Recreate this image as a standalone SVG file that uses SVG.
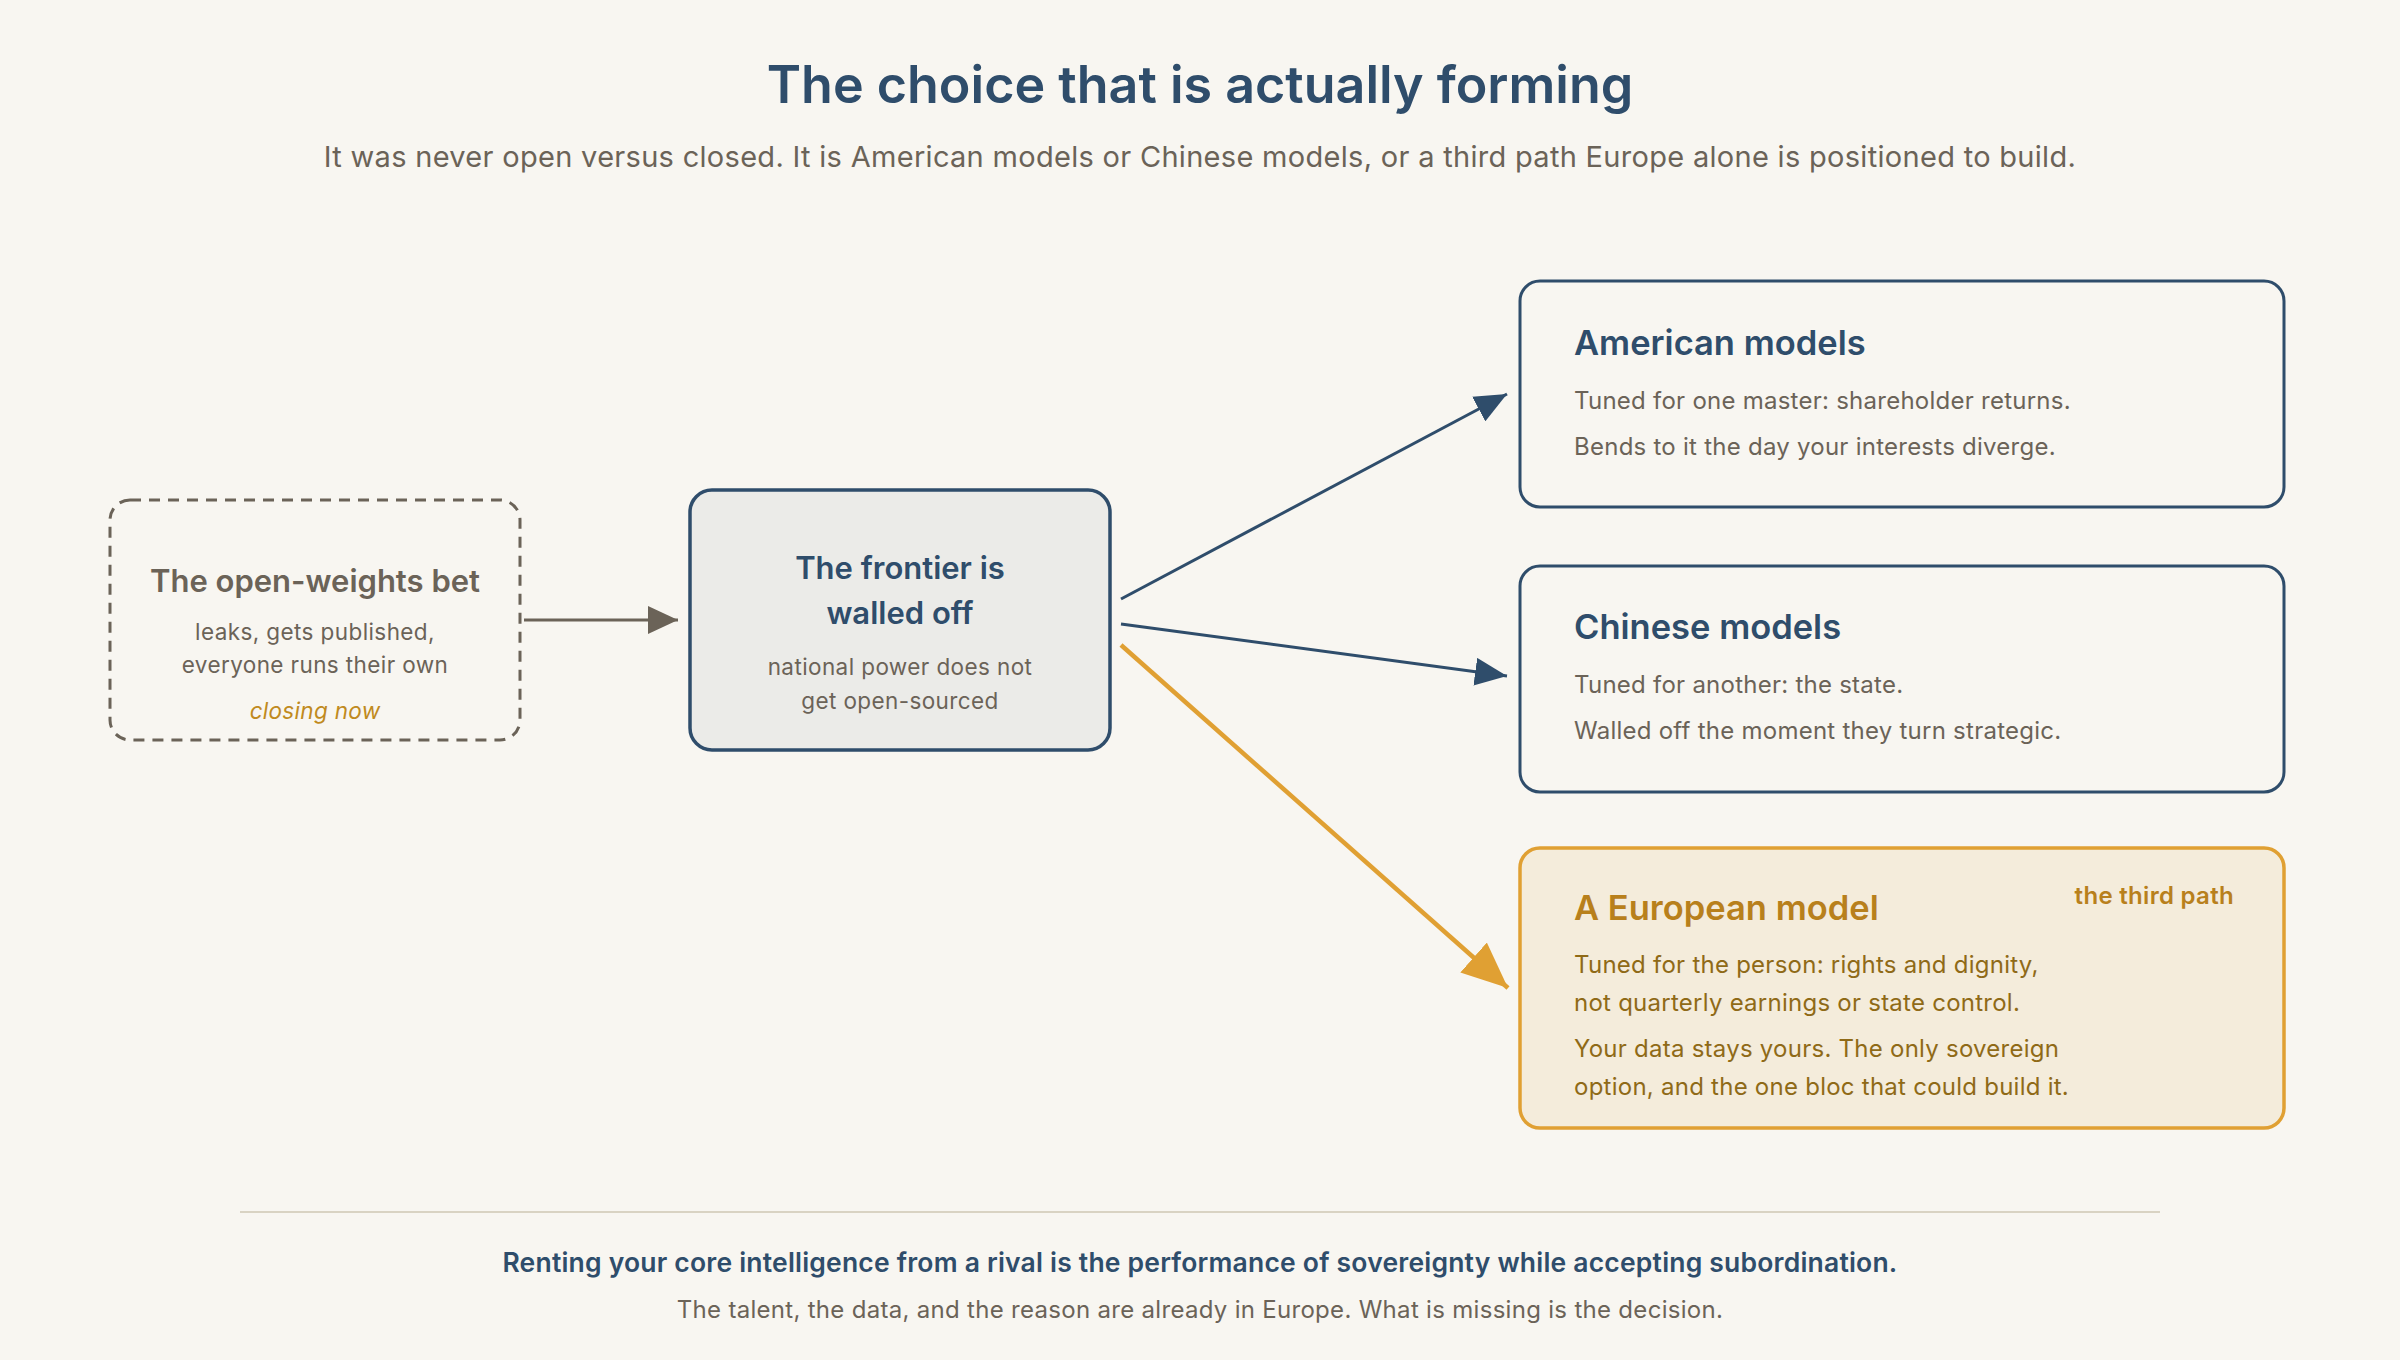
<svg xmlns="http://www.w3.org/2000/svg" width="2400" height="1360" viewBox="0 0 2400 1360">
<style>
text{font-family:Inter,"Noto Sans","Liberation Sans",sans-serif}
.h{font-size:52px;font-weight:600;fill:#2f4d6b}
.sub{font-size:29px;fill:#6b6358;letter-spacing:0.3px}
.nt{font-size:31px;font-weight:600}
.ns{font-size:22.5px;fill:#6b6358;letter-spacing:0.4px}
.bt{font-size:34.5px;font-weight:600;fill:#2f4d6b}
.bb{font-size:24px;fill:#6b6358;letter-spacing:0.25px}
.gt{font-size:34.5px;font-weight:600;fill:#b8801c}
.gb{font-size:24px;fill:#8f6a17;letter-spacing:0.25px}
.f1{font-size:26.5px;font-weight:600;fill:#2f4d6b;letter-spacing:0.2px}
.f2{font-size:24px;fill:#6b6358;letter-spacing:0.3px}
.blue{fill:none;stroke:#2f4d6b;stroke-width:3}
</style>
<defs>
<marker id="mg" markerUnits="userSpaceOnUse" markerWidth="30" markerHeight="28" refX="30" refY="14" orient="auto"><path d="M0,0 L30,14 L0,28 z" fill="#6b6358"/></marker>
<marker id="mb" markerUnits="userSpaceOnUse" markerWidth="32" markerHeight="28" refX="32" refY="14" orient="auto"><path d="M0,0 L32,14 L0,28 z" fill="#2f4d6b"/></marker>
<marker id="mo" markerUnits="userSpaceOnUse" markerWidth="46" markerHeight="40" refX="46" refY="20" orient="auto"><path d="M0,0 L46,20 L0,40 z" fill="#e0a033"/></marker>
</defs>
<rect width="2400" height="1360" fill="#f8f6f1"/>
<g id="header">
<text class="h" x="1200" y="103" text-anchor="middle">The choice that is actually forming</text>
<text class="sub" x="1200" y="167" text-anchor="middle">It was never open versus closed. It is American models or Chinese models, or a third path Europe alone is positioned to build.</text>
</g>
<g id="connectors">
<path d="M524,620 L678,620" fill="none" stroke="#6b6358" stroke-width="3" marker-end="url(#mg)"/>
<path class="blue" d="M1121,599 L1507,394" marker-end="url(#mb)"/>
<path class="blue" d="M1121,624 L1507,676" marker-end="url(#mb)"/>
<path d="M1121,645 L1508,988" fill="none" stroke="#e0a033" stroke-width="4.5" marker-end="url(#mo)"/>
</g>
<g id="node-open">
<rect x="110" y="500" width="410" height="240" rx="20" fill="none" stroke="#6b6358" stroke-width="3" stroke-dasharray="11 8"/>
<text class="nt" x="315" y="592" text-anchor="middle" fill="#6b6358">The open-weights bet</text>
<text class="ns" x="315" y="640" text-anchor="middle">leaks, gets published,</text>
<text class="ns" x="315" y="673" text-anchor="middle">everyone runs their own</text>
<text x="315" y="719" text-anchor="middle" font-size="22.5" font-style="italic" letter-spacing="0.3" fill="#c08a20">closing now</text>
</g>
<g id="node-frontier">
<rect x="690" y="490" width="420" height="260" rx="22" fill="#ebebe8" stroke="#2f4d6b" stroke-width="3.5"/>
<text class="nt" x="900" y="579" text-anchor="middle" fill="#2f4d6b" font-size="32">The frontier is</text>
<text class="nt" x="900" y="624" text-anchor="middle" fill="#2f4d6b" font-size="32">walled off</text>
<text class="ns" x="900" y="675" text-anchor="middle">national power does not</text>
<text class="ns" x="900" y="709" text-anchor="middle">get open-sourced</text>
</g>
<g id="node-american">
<rect x="1520" y="281" width="764" height="226" rx="20" fill="#f8f6f1" stroke="#2f4d6b" stroke-width="3"/>
<text class="bt" x="1574" y="355">American models</text>
<text class="bb" x="1574" y="409">Tuned for one master: shareholder returns.</text>
<text class="bb" x="1574" y="455">Bends to it the day your interests diverge.</text>
</g>
<g id="node-chinese">
<rect x="1520" y="566" width="764" height="226" rx="20" fill="#f8f6f1" stroke="#2f4d6b" stroke-width="3"/>
<text class="bt" x="1574" y="639">Chinese models</text>
<text class="bb" x="1574" y="693">Tuned for another: the state.</text>
<text class="bb" x="1574" y="739">Walled off the moment they turn strategic.</text>
</g>
<g id="node-european">
<rect x="1520" y="848" width="764" height="280" rx="20" fill="#f4ecdb" stroke="#e0a033" stroke-width="3.5"/>
<text class="gt" x="1574" y="920">A European model</text>
<text x="2234" y="904" text-anchor="end" font-size="24" font-weight="600" letter-spacing="0.3" fill="#b8801c">the third path</text>
<text class="gb" x="1574" y="973">Tuned for the person: rights and dignity,</text>
<text class="gb" x="1574" y="1011">not quarterly earnings or state control.</text>
<text class="gb" x="1574" y="1057">Your data stays yours. The only sovereign</text>
<text class="gb" x="1574" y="1095">option, and the one bloc that could build it.</text>
</g>
<g id="footer">
<line x1="240" y1="1212" x2="2160" y2="1212" stroke="#d9d3c3" stroke-width="2"/>
<text class="f1" x="1200" y="1272" text-anchor="middle">Renting your core intelligence from a rival is the performance of sovereignty while accepting subordination.</text>
<text class="f2" x="1200" y="1318" text-anchor="middle">The talent, the data, and the reason are already in Europe. What is missing is the decision.</text>
</g>
</svg>
